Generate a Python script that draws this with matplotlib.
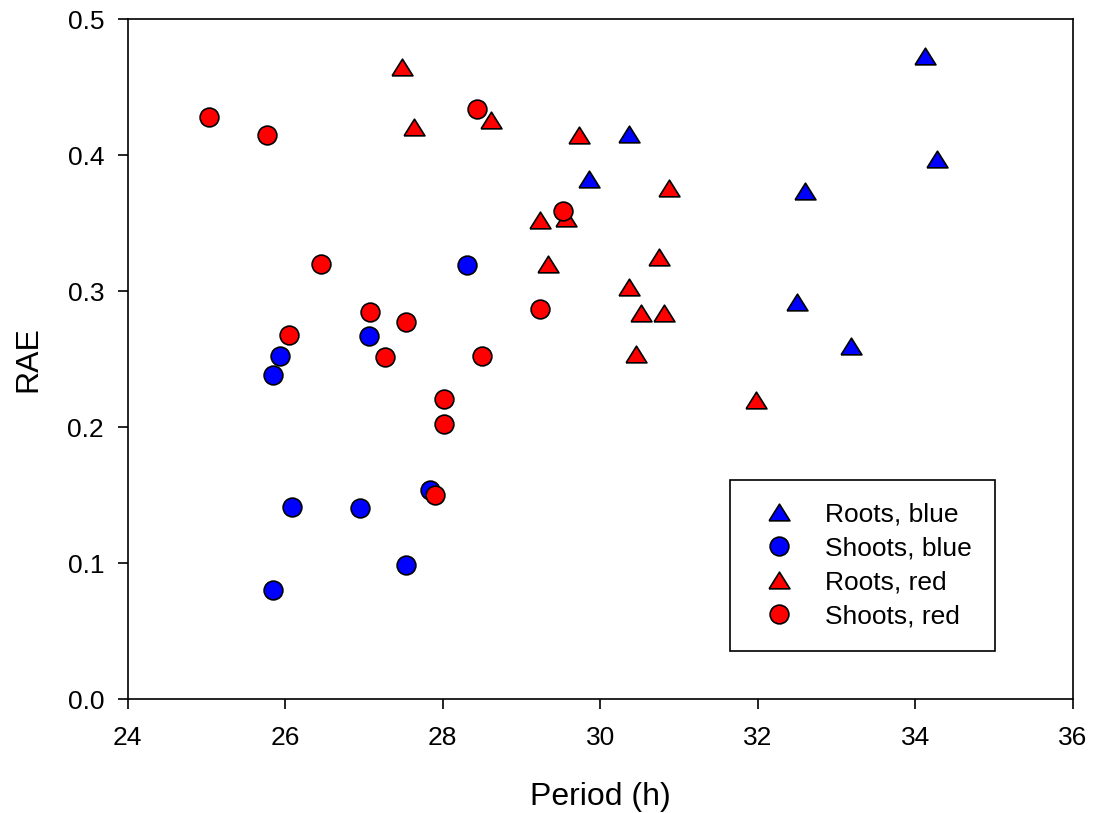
import matplotlib
matplotlib.use("Agg")
import matplotlib.pyplot as plt

plt.rcParams["font.family"] = ["Liberation Sans", "DejaVu Sans"]

# ----------------------
# Data
# ----------------------
roots_blue_period = [30.37, 29.85, 34.12, 34.27, 32.60, 32.50, 33.18]
roots_blue_rae = [0.4155, 0.3825, 0.4725, 0.397, 0.3734, 0.2917, 0.260]

shoots_blue_period = [25.93, 25.84, 28.31, 27.06, 27.84, 26.09, 26.95, 27.53, 25.84]
shoots_blue_rae = [0.2525, 0.238, 0.319, 0.267, 0.1537, 0.1414, 0.1405, 0.0984, 0.0802]

roots_red_period = [27.48, 27.63, 28.61, 29.73, 30.87, 29.57, 29.23,
                    29.34, 30.74, 30.37, 30.51, 30.81, 30.45, 31.97]
roots_red_rae = [0.465, 0.421, 0.426, 0.4145, 0.376, 0.354, 0.352,
                 0.320, 0.325, 0.303, 0.284, 0.284, 0.254, 0.2198]

shoots_red_period = [25.03, 25.77, 28.44, 26.46, 27.07, 27.53, 26.05,
                     27.27, 28.50, 28.01, 28.02, 27.90, 29.24, 29.53]
shoots_red_rae = [0.428, 0.415, 0.434, 0.320, 0.285, 0.277, 0.268,
                  0.2515, 0.252, 0.2205, 0.2026, 0.150, 0.287, 0.359]

x_ticks = [24, 26, 28, 30, 32, 34, 36]
y_ticks = [0.0, 0.1, 0.2, 0.3, 0.4, 0.5]

# flatter triangle, like the original software draws
TRIANGLE = [(-1, -0.8), (1, -0.8), (0, 0.8), (-1, -0.8)]


def main():
    fig = plt.figure(figsize=(10.93, 8.13), dpi=100)
    ax = fig.add_axes([0.1168, 0.1399, 0.8649, 0.8367])

    common = dict(linestyle="none", markeredgecolor="black", markeredgewidth=1.2)
    ax.plot(roots_blue_period, roots_blue_rae, marker=TRIANGLE, markersize=15,
            markerfacecolor="#0000FF", label="Roots, blue", **common)
    ax.plot(shoots_blue_period, shoots_blue_rae, marker="o", markersize=13.5,
            markerfacecolor="#0000FF", label="Shoots, blue", **common)
    ax.plot(roots_red_period, roots_red_rae, marker=TRIANGLE, markersize=15,
            markerfacecolor="#FF0000", label="Roots, red", **common)
    ax.plot(shoots_red_period, shoots_red_rae, marker="o", markersize=13.5,
            markerfacecolor="#FF0000", label="Shoots, red", **common)

    ax.set_xlim(24, 36)
    ax.set_ylim(0, 0.5)
    ax.set_xticks(x_ticks)
    ax.set_yticks(y_ticks)
    ax.set_yticklabels([f"{v:.1f}" for v in y_ticks])
    ax.tick_params(direction="out", length=7, width=1.2, labelsize=19,
                   top=False, right=False)
    ax.tick_params(axis="x", pad=12)
    ax.tick_params(axis="y", pad=10)
    for sp in ax.spines.values():
        sp.set_linewidth(1.2)

    ax.set_xlabel("Period (h)", fontsize=23, labelpad=23)
    ax.set_ylabel("RAE", fontsize=23, labelpad=17)

    leg = ax.legend(loc="upper left", bbox_to_anchor=(0.637, 0.3225),
                    borderaxespad=0, fontsize=19, frameon=True, fancybox=False,
                    edgecolor="black", framealpha=1, borderpad=0.85,
                    handletextpad=0.77, labelspacing=0.38, handlelength=2.0)
    leg.get_frame().set_linewidth(1.2)

    fig.savefig("out.png", dpi=100)
    plt.close(fig)


if __name__ == "__main__":
    main()
